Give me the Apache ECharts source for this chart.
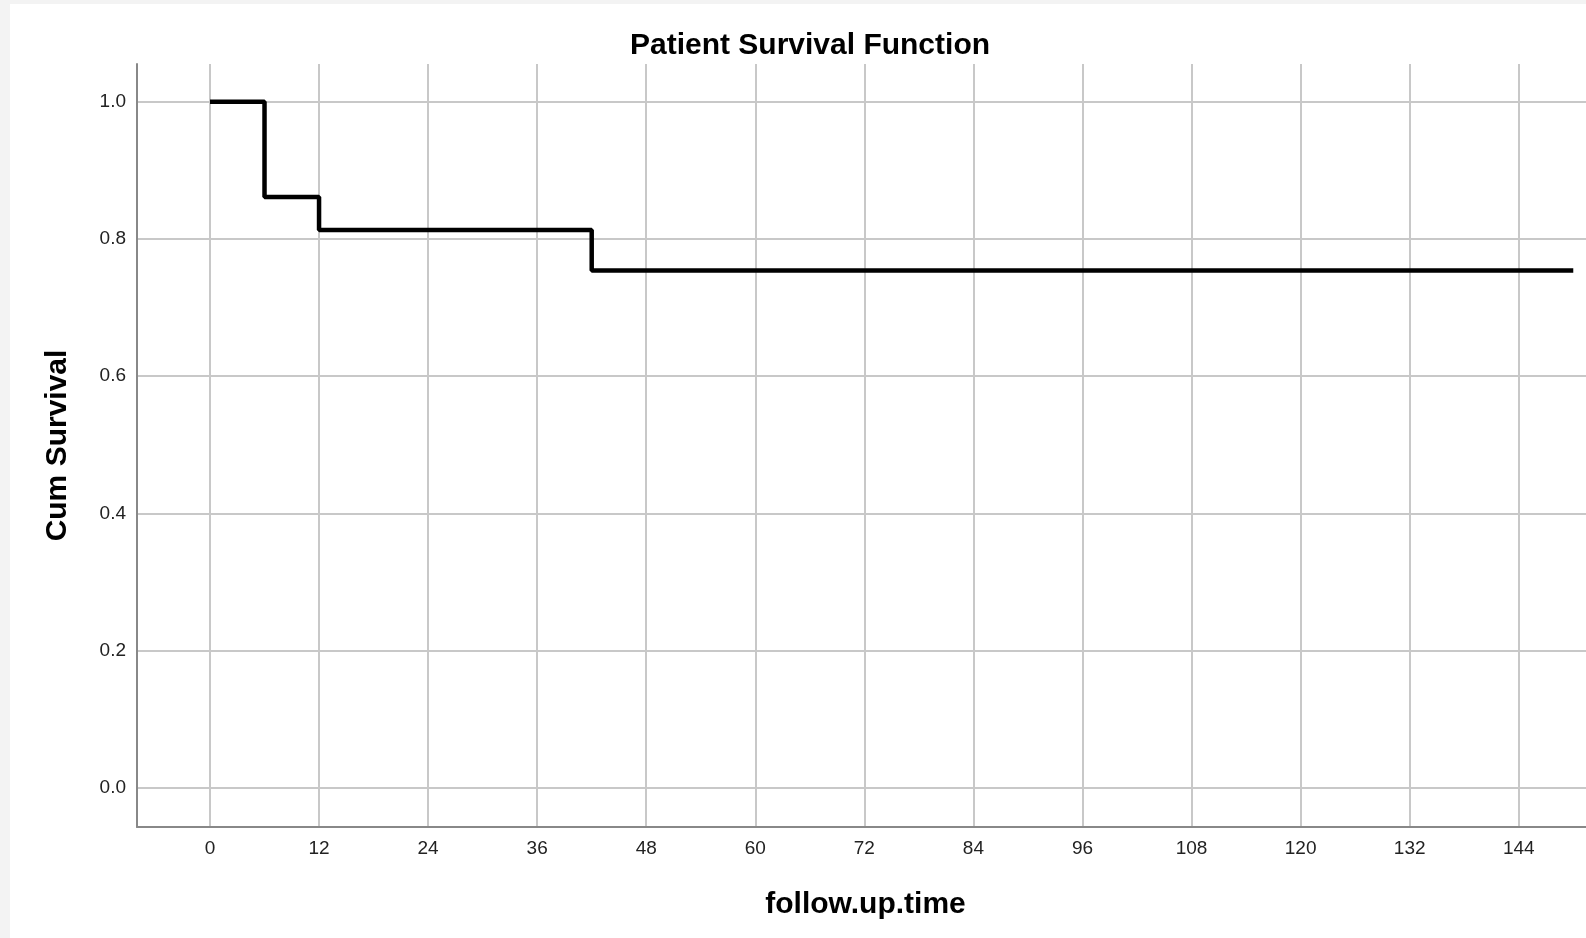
<!DOCTYPE html>
<html>
<head>
<meta charset="utf-8">
<title>Patient Survival Function</title>
<script src="https://cdn.jsdelivr.net/npm/echarts@6/dist/echarts.min.js"></script>
<style>
    html, body { margin: 0; padding: 0; background: #f3f3f3; }
    #chart { position: absolute; left: 10px; top: 4px; width: 1576px; height: 934px; background: #fff; }
</style>
</head>
<body>
<div id="chart"></div>
<script>
// survival step data (time in months, cumulative survival)
var followUpTime = [0, 6, 12, 42, 150];
var cumSurvival = [1.0, 0.861, 0.813, 0.754, 0.754];

// tick labels
var xTicks = [0, 12, 24, 36, 48, 60, 72, 84, 96, 108, 120, 132, 144];
var yTicks = [0, 0.2, 0.4, 0.6, 0.8, 1.0];

var font = 'Liberation Sans, Arial, sans-serif';

var chart = echarts.init(document.getElementById('chart'));

var points = followUpTime.map(function (t, i) {
    return [t, cumSurvival[i]];
});

var option = {
    animation: false,
    backgroundColor: '#fff',
    title: {
        text: 'Patient Survival Function',
        left: 795,
        top: 22,
        textAlign: 'center',
        textStyle: {
            fontFamily: font,
            fontSize: 30,
            fontWeight: 'bold',
            color: '#000'
        }
    },
    grid: {
        left: 127,
        top: 60,
        right: 0,
        bottom: 111,
        containLabel: false
    },
    xAxis: {
        type: 'value',
        min: -8.03,
        max: 151.4,
        name: 'follow.up.time',
        nameLocation: 'middle',
        nameGap: 63,
        nameTextStyle: {
            fontFamily: font,
            fontSize: 30,
            fontWeight: 'bold',
            color: '#000',
            padding: [0, 0, 0, 8]
        },
        axisLine: {
            show: true,
            onZero: false,
            lineStyle: { color: '#888', width: 2 }
        },
        axisTick: {
            show: false,
            customValues: xTicks
        },
        axisLabel: {
            customValues: xTicks,
            margin: 12,
            fontFamily: font,
            fontSize: 19,
            color: '#222'
        },
        splitLine: {
            show: true,
            lineStyle: { color: '#c8c8c8', width: 2 }
        }
    },
    yAxis: {
        type: 'value',
        min: -0.057,
        max: 1.055,
        name: 'Cum Survival',
        nameLocation: 'middle',
        nameGap: 64,
        nameTextStyle: {
            fontFamily: font,
            fontSize: 30,
            fontWeight: 'bold',
            color: '#000'
        },
        axisLine: {
            show: true,
            onZero: false,
            lineStyle: { color: '#888', width: 2 }
        },
        axisTick: {
            show: false,
            customValues: yTicks
        },
        axisLabel: {
            customValues: yTicks,
            margin: 11,
            fontFamily: font,
            fontSize: 19,
            color: '#222',
            formatter: function (v) {
                return v.toFixed(1);
            }
        },
        splitLine: {
            show: true,
            lineStyle: { color: '#c8c8c8', width: 2 }
        }
    },
    series: [
        {
            name: 'Survival Function',
            type: 'line',
            step: 'end',
            symbol: 'none',
            lineStyle: { color: '#000', width: 4.5 },
            data: points
        }
    ]
};

chart.setOption(option);
</script>
</body>
</html>
